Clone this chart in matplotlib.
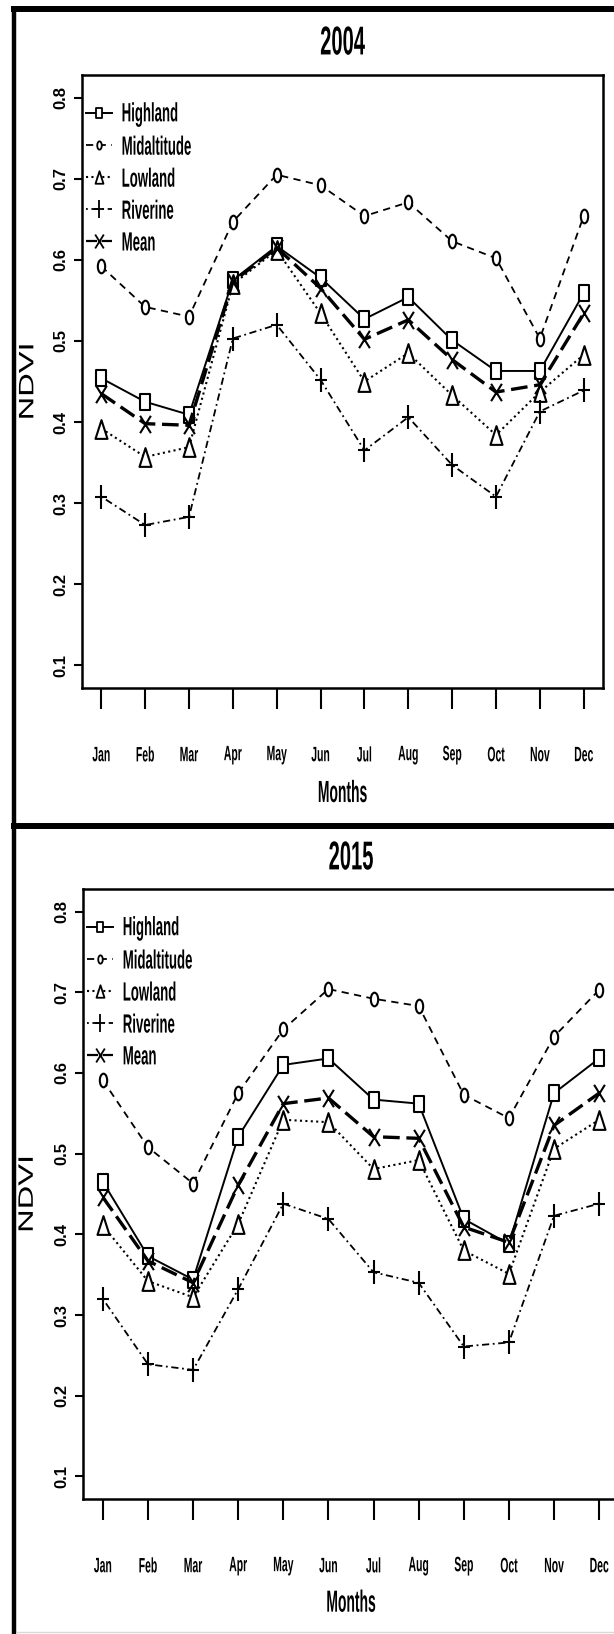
import numpy as np
import matplotlib.pyplot as plt
from matplotlib.path import Path
from matplotlib.lines import Line2D
from matplotlib.patheffects import AbstractPathEffect
from matplotlib.transforms import Affine2D

# NDVI mensual por zona agroecológica
months = ['Jan', 'Feb', 'Mar', 'Apr', 'May', 'Jun',
          'Jul', 'Aug', 'Sep', 'Oct', 'Nov', 'Dec']

highland_2004 = [0.454, 0.425, 0.409, 0.575, 0.617, 0.578, 0.527, 0.554, 0.501, 0.463, 0.463, 0.559]
midalt_2004 = [0.592, 0.542, 0.530, 0.647, 0.705, 0.692, 0.654, 0.671, 0.623, 0.602, 0.503, 0.654]
lowland_2004 = [0.392, 0.357, 0.369, 0.570, 0.612, 0.534, 0.450, 0.485, 0.433, 0.384, 0.437, 0.483]
riverine_2004 = [0.308, 0.273, 0.283, 0.503, 0.520, 0.452, 0.365, 0.406, 0.347, 0.308, 0.413, 0.439]
mean_2004 = [0.435, 0.398, 0.396, 0.573, 0.615, 0.565, 0.502, 0.526, 0.477, 0.437, 0.446, 0.534]

highland_2015 = [0.465, 0.373, 0.344, 0.521, 0.610, 0.618, 0.567, 0.562, 0.419, 0.388, 0.575, 0.618]
midalt_2015 = [0.591, 0.508, 0.463, 0.575, 0.654, 0.704, 0.692, 0.683, 0.573, 0.544, 0.645, 0.703]
lowland_2015 = [0.411, 0.342, 0.322, 0.413, 0.542, 0.539, 0.481, 0.492, 0.380, 0.351, 0.506, 0.542]
riverine_2015 = [0.320, 0.239, 0.232, 0.332, 0.438, 0.419, 0.353, 0.340, 0.261, 0.266, 0.423, 0.438]
mean_2015 = [0.446, 0.367, 0.340, 0.461, 0.562, 0.569, 0.521, 0.519, 0.409, 0.390, 0.535, 0.575]

zones = ['Highland', 'Midaltitude', 'Lowland', 'Riverine', 'Mean']
yticks = [0.1, 0.2, 0.3, 0.4, 0.5, 0.6, 0.7, 0.8]

SANS = ['Liberation Sans', 'DejaVu Sans']


# deforma el texto alrededor de su centro (letra alargada / condensada)
class Stretch(AbstractPathEffect):
    def __init__(self, sx=1.0, sy=1.0):
        super().__init__()
        self.sx = sx
        self.sy = sy

    def draw_path(self, renderer, gc, tpath, affine, rgbFace=None):
        ext = tpath.get_extents(affine)
        cx = 0.5 * (ext.x0 + ext.x1)
        cy = 0.5 * (ext.y0 + ext.y1)
        t = affine + Affine2D().translate(-cx, -cy).scale(self.sx, self.sy).translate(cx, cy)
        renderer.draw_path(gc, tpath, t, rgbFace)


# marcadores estrechos
def rect_marker(w):
    return Path([(-w, -0.5), (w, -0.5), (w, 0.5), (-w, 0.5), (-w, -0.5)],
                [Path.MOVETO, Path.LINETO, Path.LINETO, Path.LINETO, Path.CLOSEPOLY])

def ellipse_marker(w):
    c = Path.unit_circle()
    return Path(c.vertices * np.array([w, 0.5]), c.codes)

def tri_marker(w):
    return Path([(0, 0.5), (-w, -0.5), (w, -0.5), (0, 0.5)],
                [Path.MOVETO, Path.LINETO, Path.LINETO, Path.CLOSEPOLY])

def plus_marker(w):
    return Path([(-w, 0), (w, 0), (0, -0.5), (0, 0.5)],
                [Path.MOVETO, Path.LINETO, Path.MOVETO, Path.LINETO])

def x_marker(w):
    return Path([(-w, -0.5), (w, 0.5), (-w, 0.5), (w, -0.5)],
                [Path.MOVETO, Path.LINETO, Path.MOVETO, Path.LINETO])

styles = {
    'Highland': dict(marker=rect_marker(0.29), ms=11.5, lw=1.4, ls='-', mfc='white'),
    'Midaltitude': dict(marker=ellipse_marker(0.27), ms=9.8, lw=1.3, ls=(0, (4, 3)), mfc='white'),
    'Lowland': dict(marker=tri_marker(0.32), ms=13.5, lw=1.5, ls=(0, (1, 1.6)), mfc='white'),
    'Riverine': dict(marker=plus_marker(0.26), ms=17, lw=1.3, ls=(0, (1, 2, 4, 2)), mfc='none'),
    'Mean': dict(marker=x_marker(0.31), ms=12.5, lw=2.4, ls=(0, (5, 2)), mfc='none'),
}
legend_ms = {'Highland': 7, 'Midaltitude': 6, 'Lowland': 9, 'Riverine': 13, 'Mean': 10}

fig = plt.figure(figsize=(6.14, 16.34), dpi=100)
W, H = 614, 1634


def px_axes(left, top, right, bottom):
    return fig.add_axes([left / W, 1 - bottom / H, (right - left) / W, (bottom - top) / H])


def panel(ax, year, series, title_y, label_y):
    x = np.arange(1, 13)
    for name, vals in zip(zones, series):
        st = styles[name]
        ax.plot(x, vals, color='black', linestyle=st['ls'], linewidth=st['lw'],
                marker=st['marker'], markersize=st['ms'], markerfacecolor=st['mfc'],
                markeredgecolor='black', markeredgewidth=1.5)
    ax.set_xlim(0.56, 12.44)
    ax.set_ylim(0.072, 0.828)
    ax.set_xticks(x)
    ax.set_xticklabels(months, family=SANS, fontsize=7.5, fontweight='bold',
                       va='center', path_effects=[Stretch(sy=2.0)])
    ax.set_yticks(yticks)
    ax.set_yticklabels(['%.1f' % v for v in yticks], family=SANS, fontsize=12,
                       fontweight='bold', rotation=90, va='center')
    ax.tick_params(axis='x', length=15, width=1.5, pad=33, color='black')
    ax.tick_params(axis='y', length=6, width=1.5, pad=4, color='black')
    for sp in ax.spines.values():
        sp.set_linewidth(1.8)
    ax.set_title(year, y=title_y, pad=0, va='center', family=SANS, fontsize=14.5,
                 fontweight='bold', path_effects=[Stretch(sy=2.0)])
    ax.set_xlabel('Months', family=SANS, fontsize=10, fontweight='bold', va='center',
                  path_effects=[Stretch(sy=2.2)])
    ax.xaxis.set_label_coords(0.5, label_y)
    ax.set_ylabel('NDVI', family=SANS, fontsize=23.5, va='center',
                  path_effects=[Stretch(sx=0.64)])
    ax.yaxis.set_label_coords(-0.102, 0.5)

    handles = []
    for name in zones:
        st = styles[name]
        handles.append(Line2D([], [], color='black', linestyle=st['ls'], linewidth=min(st['lw'], 1.6),
                              marker=st['marker'], markersize=legend_ms[name],
                              markerfacecolor=st['mfc'], markeredgecolor='black',
                              markeredgewidth=1.3))
    leg = ax.legend(handles, zones, loc='upper left', bbox_to_anchor=(0.007, 0.945),
                    frameon=False, prop={'family': SANS, 'size': 9.5, 'weight': 'bold'},
                    handlelength=1.97, handletextpad=0.76, labelspacing=1.5,
                    borderpad=0, borderaxespad=0)
    for t in leg.get_texts():
        t.set_path_effects([Stretch(sy=2.0)])


ax1 = px_axes(82, 75, 603, 688)
panel(ax1, '2004', [highland_2004, midalt_2004, lowland_2004, riverine_2004, mean_2004],
      1.0538, -0.1697)

ax2 = px_axes(83, 889, 619, 1499)
panel(ax2, '2015', [highland_2015, midalt_2015, lowland_2015, riverine_2015, mean_2015],
      1.0525, -0.1684)


# marcos de los paneles
def frame_line(x0, y0, x1, y1, lw, color='black'):
    fig.add_artist(Line2D([x0 / W, x1 / W], [1 - y0 / H, 1 - y1 / H],
                          transform=fig.transFigure, color=color, linewidth=lw,
                          solid_capstyle='butt'))

frame_line(11, 9, 614, 9, 4.3)
frame_line(13.5, 6, 13.5, 1634, 3.2)
frame_line(11, 826, 614, 826, 4.3)
frame_line(16, 1632, 614, 1632, 1.0, color='#d8d8d8')

fig.savefig('out.png', dpi=100)
